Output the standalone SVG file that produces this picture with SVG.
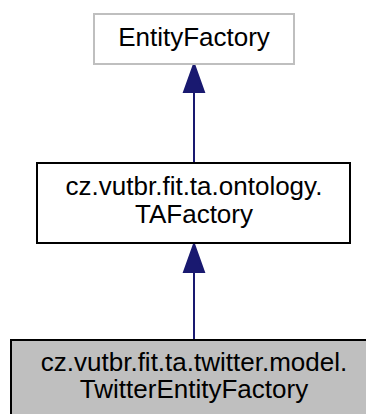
<svg xmlns="http://www.w3.org/2000/svg" width="366" height="414" viewBox="0 0 366 414">
<style>
text{font-family:"Liberation Sans",Arial,Helvetica,sans-serif;font-size:26px;fill:#000;text-anchor:middle}
.edge{stroke:#191970;stroke-width:2;fill:none}
.head{fill:#191970;stroke:#191970;stroke-width:2}
</style>
<rect width="366" height="414" fill="#fff"/>
<g id="edges">
<line class="edge" x1="194" y1="92" x2="194" y2="163"/>
<polygon class="head" points="194,64 184,92 204,92"/>
<line class="edge" x1="194" y1="272" x2="194" y2="340"/>
<polygon class="head" points="194,244 184,272 204,272"/>
</g>
<g id="EntityFactory">
<rect x="94" y="14" width="200" height="50" fill="#fff" stroke="#bfbfbf" stroke-width="2"/>
<text x="194" y="46">EntityFactory</text>
</g>
<g id="TAFactory">
<rect x="37" y="163" width="313" height="80" fill="#fff" stroke="#000" stroke-width="2"/>
<text x="194" y="195">cz.vutbr.fit.ta.ontology.</text>
<text x="194" y="223">TAFactory</text>
</g>
<g id="TwitterEntityFactory">
<rect x="11" y="340" width="366" height="80" fill="#bfbfbf" stroke="#000" stroke-width="2"/>
<text x="194" y="371">cz.vutbr.fit.ta.twitter.model.</text>
<text x="194" y="398">TwitterEntityFactory</text>
</g>
</svg>
